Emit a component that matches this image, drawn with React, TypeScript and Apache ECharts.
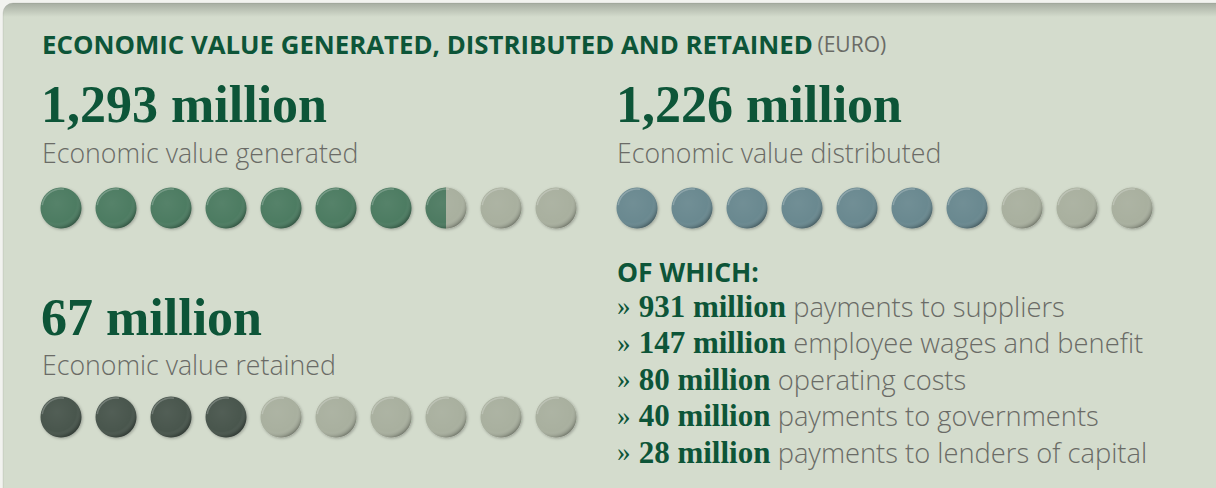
import React, { useEffect, useRef } from 'react';
import * as echarts from 'echarts';

const dotSlots = [0, 1, 2, 3, 4, 5, 6, 7, 8, 9];
const generatedDots = [1, 1, 1, 1, 1, 1, 1, 0.5, 0, 0];
const distributedDots = [1, 1, 1, 1, 1, 1, 1, 0, 0, 0];
const retainedDots = [1, 1, 1, 1, 0, 0, 0, 0, 0, 0];

const titleText = 'ECONOMIC VALUE GENERATED, DISTRIBUTED AND RETAINED';
const unitText = '(EURO)';
const headlineValues = ['1,293 million', '1,226 million', '67 million'];
const headlineLabels = ['Economic value generated', 'Economic value distributed', 'Economic value retained'];
const breakdownHeading = 'OF WHICH:';
const breakdownValues = ['931 million', '147 million', '80 million', '40 million', '28 million'];
const breakdownLabels = [
  'payments to suppliers',
  'employee wages and benefit',
  'operating costs',
  'payments to governments',
  'payments to lenders of capital',
];

const GREEN = '#0d5538';
const GRAY = '#6a6b66';
const SERIF = '"Liberation Serif", "DejaVu Serif", serif';
const SANS = '"Open Sans", Lato, sans-serif';
const EMPTY = '#a9b09f';

function makeRenderer(fillColor: string, emptyColor: string) {
  return (params: any, api: any) => {
    const idx = api.value(0);
    const frac = api.value(2);
    const pt = api.coord([idx, 0]);
    const cx = pt[0];
    const cy = pt[1];
    const r = 20.5;
    const children: any[] = [];
    children.push({
      type: 'circle',
      shape: { cx, cy, r },
      style: {
        fill: frac >= 1 ? fillColor : emptyColor,
        shadowBlur: 3,
        shadowColor: 'rgba(0,0,0,0.28)',
        shadowOffsetX: 1,
        shadowOffsetY: 1,
      },
    });
    if (frac > 0 && frac < 1) {
      children.push({
        type: 'sector',
        shape: {
          cx, cy, r0: 0, r,
          startAngle: Math.PI / 2,
          endAngle: Math.PI / 2 + Math.PI * 2 * frac,
          clockwise: true,
        },
        style: { fill: fillColor },
      });
    }
    children.push({
      type: 'circle',
      shape: { cx, cy, r },
      style: {
        fill: new echarts.graphic.RadialGradient(0.4, 0.38, 0.66, [
          { offset: 0, color: 'rgba(255,255,255,0.05)' },
          { offset: 0.72, color: 'rgba(255,255,255,0)' },
          { offset: 0.9, color: 'rgba(0,0,0,0.12)' },
          { offset: 1, color: 'rgba(0,0,0,0.33)' },
        ]),
      },
    });
    children.push({
      type: 'arc',
      shape: { cx, cy, r: r - 1.5, startAngle: Math.PI * 1.05, endAngle: Math.PI * 1.55, clockwise: true },
      style: { stroke: 'rgba(255,255,255,0.22)', lineWidth: 1.5, fill: 'none' },
    });
    return { type: 'group', children };
  };
}

function dotSeries(values: number[], gridIdx: number, fill: string) {
  return {
    type: 'custom',
    xAxisIndex: gridIdx,
    yAxisIndex: gridIdx,
    renderItem: makeRenderer(fill, EMPTY),
    encode: { x: 0, y: 1 },
    data: dotSlots.map((s, i) => [s, 0, values[i]]),
    silent: true,
  };
}

export default function App() {
  const ref = useRef<HTMLDivElement>(null);
  useEffect(() => {
    if (!ref.current) return;
    const chart = echarts.init(ref.current, undefined, { renderer: 'svg' });
    const leftX = 42;
    const rightX = 617;
    const graphics: any[] = [
      {
        type: 'rect',
        shape: { x: 3, y: 3, width: 1240, height: 500, r: [10, 0, 0, 0] },
        style: { fill: '#d4dccd', stroke: 'rgba(0,0,0,0.08)', lineWidth: 1 },
        z: -10,
      },
      {
        type: 'rect',
        shape: { x: 3, y: 3, width: 1240, height: 14, r: [10, 0, 0, 0] },
        style: {
          fill: new echarts.graphic.LinearGradient(0, 0, 0, 1, [
            { offset: 0, color: 'rgba(80,85,78,0.35)' },
            { offset: 1, color: 'rgba(80,85,78,0)' },
          ]),
        },
        z: -9,
      },
      {
        type: 'text',
        x: leftX,
        y: 44,
        style: {
          text: `{t|${titleText}} {u|${unitText}}`,
          verticalAlign: 'middle',
          fontSize: 18,
          fontFamily: SANS,
          rich: {
            t: { fontSize: 25.8, fontWeight: 'bold', fontFamily: SANS, fill: GREEN, color: GREEN },
            u: { fontSize: 21, fontFamily: SANS, fill: GRAY, color: GRAY },
          },
        },
      },
    ];
    const headPos = [
      [leftX, 104, 152],
      [rightX, 104, 152],
      [leftX, 317, 364],
    ];
    headlineValues.forEach((v, i) => {
      graphics.push({
        type: 'text',
        x: headPos[i][0] - 1,
        y: headPos[i][1],
        style: { text: v, fill: GREEN, fontSize: 52, fontWeight: 'bold', fontFamily: SERIF, verticalAlign: 'middle' },
      });
      graphics.push({
        type: 'text',
        x: headPos[i][0],
        y: headPos[i][2],
        style: { text: headlineLabels[i], fill: GRAY, fontSize: 26.7, fontWeight: 300, fontFamily: SANS, verticalAlign: 'middle' },
      });
    });
    graphics.push({
      type: 'text',
      x: rightX,
      y: 272,
      style: { text: breakdownHeading, fill: GREEN, fontSize: 26.5, fontWeight: 'bold', fontFamily: SANS, verticalAlign: 'middle' },
    });
    breakdownValues.forEach((v, i) => {
      graphics.push({
        type: 'text',
        x: rightX,
        y: 306 + i * 36.5,
        style: {
          text: `{q|»} {b|${v}} {n|${breakdownLabels[i]}}`,
          verticalAlign: 'middle',
          fontSize: 20,
          fontFamily: SANS,
          rich: {
            q: { fontSize: 27, fontFamily: SERIF, fill: GREEN, color: GREEN, padding: [0, 3, 0, 0] },
            b: { fontSize: 31, fontWeight: 'bold', fontFamily: SERIF, fill: GREEN, color: GREEN, padding: [0, 2, 0, 0] },
            n: { fontSize: 27.3, fontWeight: 300, fontFamily: SANS, fill: GRAY, color: GRAY },
          },
        },
      });
    });

    chart.setOption({
      animation: false,
      backgroundColor: '#f2f3ef',
      grid: [
        { left: 33.5, top: 188, width: 550, height: 40 },
        { left: 609.5, top: 188, width: 550, height: 40 },
        { left: 33.5, top: 397, width: 550, height: 40 },
      ],
      xAxis: [0, 1, 2].map((g) => ({ type: 'category', data: dotSlots, gridIndex: g, show: false })),
      yAxis: [0, 1, 2].map((g) => ({ type: 'value', min: -1, max: 1, gridIndex: g, show: false })),
      series: [
        dotSeries(generatedDots, 0, '#4e7b62'),
        dotSeries(distributedDots, 1, '#6b8990'),
        dotSeries(retainedDots, 2, '#4a564e'),
      ],
      graphic: { elements: graphics },
    });
    return () => chart.dispose();
  }, []);
  return <div ref={ref} style={{ position: 'fixed', left: 0, top: 0, width: 1216, height: 488 }} />;
}
